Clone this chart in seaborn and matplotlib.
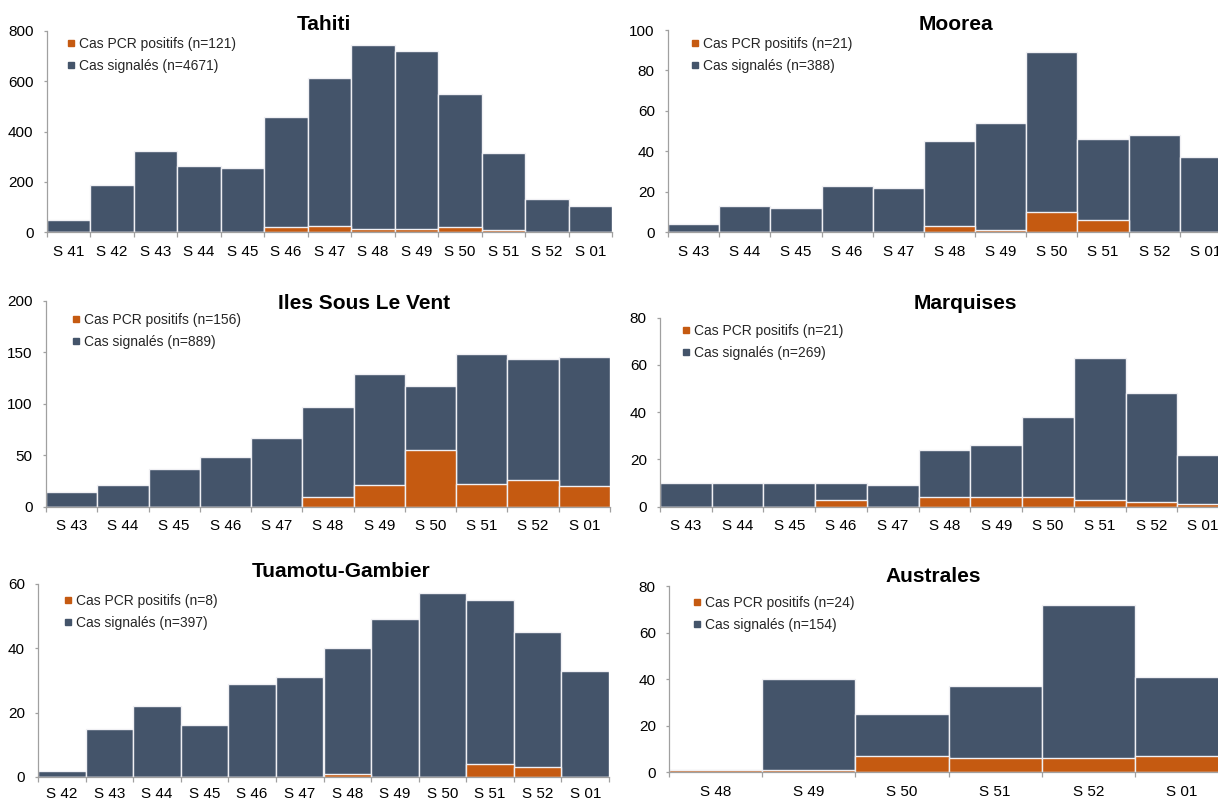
import numpy as np
import pandas as pd
import matplotlib
matplotlib.use("Agg")
import matplotlib.pyplot as plt
import seaborn as sns
from matplotlib.lines import Line2D

sns.set_theme(style="white")
plt.rcParams["font.family"] = ["Liberation Sans", "DejaVu Sans"]

NAVY = "#44546A"
ORANGE = "#C55A11"
GRAY = "#A0A0A0"

# ---------------- data ----------------
tahiti_weeks = ["S 41", "S 42", "S 43", "S 44", "S 45", "S 46", "S 47", "S 48", "S 49", "S 50", "S 51", "S 52", "S 01"]
tahiti_signales = [50, 187, 325, 265, 255, 460, 612, 746, 720, 548, 316, 133, 104]
tahiti_pcr = [0, 0, 0, 0, 0, 20, 25, 15, 15, 20, 10, 3, 1]

moorea_weeks = ["S 43", "S 44", "S 45", "S 46", "S 47", "S 48", "S 49", "S 50", "S 51", "S 52", "S 01"]
moorea_signales = [4, 13, 12, 23, 22, 45, 54, 89, 46, 48, 37]
moorea_pcr = [0, 0, 0, 0, 0, 3, 1, 10, 6, 0, 0]

islv_weeks = ["S 43", "S 44", "S 45", "S 46", "S 47", "S 48", "S 49", "S 50", "S 51", "S 52", "S 01"]
islv_signales = [14, 21, 37, 48, 67, 97, 129, 117, 148, 143, 145]
islv_pcr = [0, 0, 0, 0, 0, 9, 21, 55, 22, 26, 20]

marq_weeks = ["S 43", "S 44", "S 45", "S 46", "S 47", "S 48", "S 49", "S 50", "S 51", "S 52", "S 01"]
marq_signales = [10, 10, 10, 10, 9, 24, 26, 38, 63, 48, 22]
marq_pcr = [0, 0, 0, 3, 0, 4, 4, 4, 3, 2, 1]

tuam_weeks = ["S 42", "S 43", "S 44", "S 45", "S 46", "S 47", "S 48", "S 49", "S 50", "S 51", "S 52", "S 01"]
tuam_signales = [2, 15, 22, 16, 29, 31, 40, 49, 57, 55, 45, 33]
tuam_pcr = [0, 0, 0, 0, 0, 0, 1, 0, 0, 4, 3, 0]

aust_weeks = ["S 48", "S 49", "S 50", "S 51", "S 52", "S 01"]
aust_signales = [1, 40, 25, 37, 72, 41]
aust_pcr = [1, 1, 7, 6, 6, 7]

titles = ["Tahiti", "Moorea", "Iles Sous Le Vent", "Marquises", "Tuamotu-Gambier", "Australes"]
pcr_labels = ["Cas PCR positifs (n=121)", "Cas PCR positifs (n=21)", "Cas PCR positifs (n=156)",
              "Cas PCR positifs (n=21)", "Cas PCR positifs (n=8)", "Cas PCR positifs (n=24)"]
sig_labels = ["Cas signalés (n=4671)", "Cas signalés (n=388)", "Cas signalés (n=889)",
              "Cas signalés (n=269)", "Cas signalés (n=397)", "Cas signalés (n=154)"]
y_max = [800, 100, 200, 80, 60, 80]
y_step = [200, 20, 50, 20, 20, 20]

series = [
    (tahiti_weeks, tahiti_signales, tahiti_pcr),
    (moorea_weeks, moorea_signales, moorea_pcr),
    (islv_weeks, islv_signales, islv_pcr),
    (marq_weeks, marq_signales, marq_pcr),
    (tuam_weeks, tuam_signales, tuam_pcr),
    (aust_weeks, aust_signales, aust_pcr),
]

# ---------------- layout (pixels) ----------------
W, H = 1218, 801
# left, right, top, bottom of axes
boxes = [(46.7, 612, 31, 232.3), (668, 1231, 30, 232),
         (46, 610, 300.7, 506.7), (660, 1229, 317.7, 506.7),
         (38, 609, 583.7, 777), (669, 1228, 586, 772.3)]
xlabel_pad = [3, 3, 3, 3, 1.2, 3]
title_pos = [(324, 30), (956, 30), (364, 309), (965, 309), (341, 577), (933, 582)]
legend_pos = [(71, 45), (695, 45), (76, 321), (686, 332), (68, 602), (697, 604)]

fig = plt.figure(figsize=(W / 100, H / 100), dpi=100)

for i, (weeks, sig, pcr) in enumerate(series):
    l, r, t, b = boxes[i]
    ax = fig.add_axes([l / W, 1 - b / H, (r - l) / W, (b - t) / H])
    df = pd.DataFrame({"week": weeks, "signales": sig, "pcr": pcr})
    sns.barplot(data=df, x="week", y="signales", color=NAVY, saturation=1, width=1.0,
                edgecolor="#F0F0F4", linewidth=1.0, errorbar=None, ax=ax)
    sns.barplot(data=df, x="week", y="pcr", color=ORANGE, saturation=1, width=1.0,
                edgecolor="#F0F0F4", linewidth=1.0, errorbar=None, ax=ax)
    n = len(weeks)
    ax.set_xlim(-0.5, n - 0.5)
    ax.set_ylim(0, y_max[i])
    ax.set_yticks(np.arange(0, y_max[i] + 1, y_step[i]))
    ax.set_xlabel("")
    ax.set_ylabel("")
    ax.set_xticks(np.arange(n + 1) - 0.5, minor=True)
    for s in ["top", "right"]:
        ax.spines[s].set_visible(False)
    for s in ["left", "bottom"]:
        ax.spines[s].set_color(GRAY)
        ax.spines[s].set_linewidth(0.9)
    ax.tick_params(axis="x", which="major", bottom=False, labelsize=11, pad=xlabel_pad[i],
                   labelcolor="#000000")
    ax.tick_params(axis="x", which="minor", bottom=True, length=3.5, width=0.9, color=GRAY, direction="out")
    ax.tick_params(axis="y", which="major", left=True, length=2.5, width=0.9, color=GRAY,
                   direction="out", pad=7, labelsize=11, labelcolor="#000000")

    handles = [Line2D([], [], marker="s", ls="", color=ORANGE, markersize=4),
               Line2D([], [], marker="s", ls="", color=NAVY, markersize=4)]
    mx, my = legend_pos[i]
    ax.legend(handles, [pcr_labels[i], sig_labels[i]], loc="upper left",
              bbox_to_anchor=((mx - 4) / W, 1 - (my - 8) / H), bbox_transform=fig.transFigure,
              frameon=False, borderpad=0, borderaxespad=0, handlelength=0.6, handletextpad=0.25,
              labelspacing=0.55, fontsize=10)

    tx, ty = title_pos[i]
    fig.text(tx / W, 1 - ty / H, titles[i], ha="center", va="baseline",
             fontsize=15, fontweight="bold", color="#000000")

fig.savefig("out.png", dpi=100)
